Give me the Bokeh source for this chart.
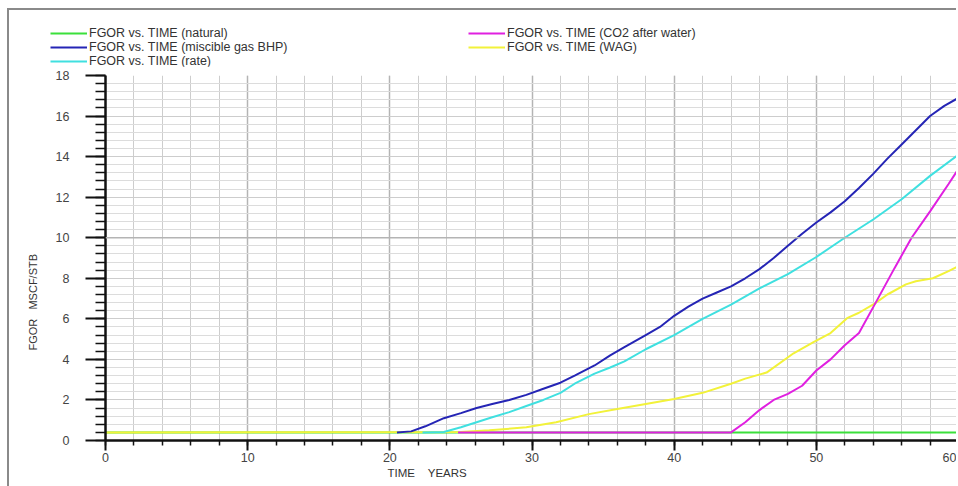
from bokeh.plotting import figure
from bokeh.models import (Legend, LegendItem, SingleIntervalTicker, Range1d, Span, Title)
from bokeh.embed import file_html
from bokeh.resources import INLINE

# ---------------- data ----------------
natural_t = [0, 60]
natural_v = [0.4, 0.4]

wag_t = [0, 25, 27, 29.6, 31.7, 34, 36, 38, 40, 42, 44, 45, 46.5, 48.4, 49.8, 51, 52.2, 53, 54.1, 55, 56.3, 57, 58.2, 59.3, 60]
wag_v = [0.4, 0.42, 0.5, 0.65, 0.9, 1.3, 1.55, 1.8, 2.05, 2.35, 2.8, 3.05, 3.35, 4.3, 4.85, 5.3, 6.05, 6.3, 6.75, 7.2, 7.7, 7.85, 8.0, 8.35, 8.6]

bhp_t = [20.5, 21.5, 22.5, 23.8, 25, 26.1, 27.2, 28.4, 29.6, 30.8, 32, 33, 34.4, 35.5, 36.5, 38, 39, 40, 41, 42, 43, 44, 45, 46, 47, 48, 49, 50, 51, 52, 53, 54, 55, 56, 57, 58, 59, 60]
bhp_v = [0.4, 0.45, 0.7, 1.1, 1.35, 1.6, 1.8, 2.0, 2.25, 2.55, 2.85, 3.2, 3.7, 4.2, 4.6, 5.2, 5.6, 6.15, 6.6, 7.0, 7.3, 7.6, 8.0, 8.45, 9.0, 9.6, 10.2, 10.75, 11.25, 11.8, 12.45, 13.15, 13.9, 14.6, 15.3, 16.0, 16.5, 16.9]

rate_t = [22.3, 23.8, 25, 26.1, 27.2, 28.4, 29.6, 30.8, 32, 33, 34.4, 35.5, 36.5, 38, 40, 42, 44, 46, 48, 50, 52, 54, 56, 58, 60]
rate_v = [0.4, 0.42, 0.65, 0.9, 1.15, 1.4, 1.7, 2.0, 2.35, 2.8, 3.3, 3.6, 3.9, 4.5, 5.2, 6.0, 6.7, 7.5, 8.2, 9.05, 10.0, 10.9, 11.9, 13.05, 14.1]

co2_t = [24.8, 44, 45, 46, 47, 48, 49, 50, 51, 52, 53, 54.1, 55.5, 56.7, 58, 59.3, 60]
co2_v = [0.4, 0.4, 0.9, 1.5, 2.0, 2.3, 2.7, 3.45, 4.0, 4.7, 5.3, 6.7, 8.5, 10.0, 11.3, 12.65, 13.4]

labels = ["FGOR vs. TIME (natural)", "FGOR vs. TIME (miscible gas BHP)", "FGOR vs. TIME (rate)",
          "FGOR vs. TIME (CO2 after water)", "FGOR vs. TIME (WAG)"]
colors = {"natural": "#3be03b", "bhp": "#2525b5", "rate": "#40e0e0", "co2": "#e020e0", "wag": "#f2f23a"}
x_title = "TIME\u00a0\u00a0\u00a0\u00a0YEARS"
y_title = "FGOR\u00a0\u00a0\u00a0MSCF/STB"

FONT = "Liberation Sans"
W = 949
LEG_H = 58
MAIN_H = 420
BORDER = "2px solid #8a8a8a"
NAN = float("nan")

# ---------------- legend strip ----------------
lf = figure(width=W, height=LEG_H, output_backend="svg", toolbar_location=None,
            x_range=Range1d(0, 1), y_range=Range1d(0, 1),
            x_axis_location=None, y_axis_location=None,
            min_border_left=0, min_border_right=0, min_border_top=0, min_border_bottom=0)
lf.grid.visible = False
lf.outline_line_color = None
lf.styles = {"margin-left": "7px", "margin-top": "8px", "border-left": BORDER, "border-top": BORDER}
d_nat = lf.line(x=[NAN], y=[NAN], line_color=colors["natural"], line_width=2)
d_bhp = lf.line(x=[NAN], y=[NAN], line_color=colors["bhp"], line_width=2)
d_rate = lf.line(x=[NAN], y=[NAN], line_color=colors["rate"], line_width=2)
d_co2 = lf.line(x=[NAN], y=[NAN], line_color=colors["co2"], line_width=2)
d_wag = lf.line(x=[NAN], y=[NAN], line_color=colors["wag"], line_width=2)

def mk_legend(items, loc):
    return Legend(items=items, location=loc, orientation="vertical", padding=0, margin=0, spacing=0,
                  label_height=14, glyph_height=14, glyph_width=37, label_standoff=2,
                  border_line_color=None, background_fill_alpha=0,
                  label_text_font=FONT, label_text_font_size="12.5px", label_text_color="#333333")

lf.add_layout(mk_legend([LegendItem(label=labels[0], renderers=[d_nat]),
                         LegendItem(label=labels[1], renderers=[d_bhp]),
                         LegendItem(label=labels[2], renderers=[d_rate])], (41, 0)))
lf.add_layout(mk_legend([LegendItem(label=labels[3], renderers=[d_co2]),
                         LegendItem(label=labels[4], renderers=[d_wag])], (459, 14)))

# ---------------- main plot ----------------
p = figure(width=W, height=MAIN_H, output_backend="svg", toolbar_location=None,
           x_range=Range1d(0, 60), y_range=Range1d(0, 18),
           min_border_left=96, min_border_right=0, min_border_top=9, min_border_bottom=46)
p.outline_line_color = None
p.styles = {"margin-left": "7px", "border-left": BORDER}

p.xaxis.ticker = SingleIntervalTicker(interval=10, num_minor_ticks=5)
p.yaxis.ticker = SingleIntervalTicker(interval=2, num_minor_ticks=5)
p.xgrid.grid_line_color = "#b4b4b4"
p.xgrid.grid_line_width = 1.5
p.xgrid.minor_grid_line_color = "#cdcdcd"
p.ygrid.grid_line_color = "#cdcdcd"
p.ygrid.minor_grid_line_color = "#dcdcdc"
p.add_layout(Span(location=10, dimension="width", line_color="#b4b4b4", line_width=1.5))

for ax in (p.xaxis[0], p.yaxis[0]):
    ax.axis_line_color = "#111111"
    ax.axis_line_width = 2.5
    ax.major_tick_line_color = "#111111"
    ax.major_tick_line_width = 2
    ax.minor_tick_line_color = "#111111"
    ax.minor_tick_line_width = 1.5
    ax.major_label_text_font = FONT
    ax.major_label_text_font_size = "12.5px"
    ax.major_label_text_color = "#444444"
    ax.major_tick_in = 0
    ax.minor_tick_in = 0

p.xaxis.major_tick_out = 10
p.xaxis.minor_tick_out = 5
p.xaxis.major_label_standoff = 2
p.yaxis.major_tick_out = 20
p.yaxis.minor_tick_out = 10
p.yaxis.major_label_standoff = 16

p.add_layout(Title(text=x_title, align="left", offset=282, standoff=0, text_font=FONT,
                   text_font_size="11.5px", text_font_style="normal", text_color="#333333"), "below")
p.add_layout(Title(text=y_title, align="left", offset=90, standoff=27, text_font=FONT,
                   text_font_size="11px", text_font_style="normal", text_color="#333333"), "left")

p.line(natural_t, natural_v, line_color=colors["natural"], line_width=2)
p.line(wag_t, wag_v, line_color=colors["wag"], line_width=2)
p.line(bhp_t, bhp_v, line_color=colors["bhp"], line_width=2)
p.line(rate_t, rate_v, line_color=colors["rate"], line_width=2)
p.line(co2_t, co2_v, line_color=colors["co2"], line_width=2)

open("out.html", "w").write(file_html([lf, p], INLINE))
